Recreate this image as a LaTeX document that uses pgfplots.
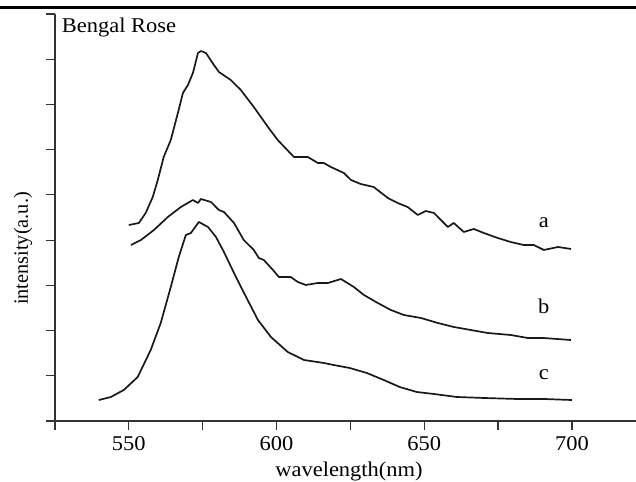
\documentclass[border=0pt]{standalone}
\usepackage{fontspec}
\setmainfont{Liberation Serif}[FakeStretch=1.07]
\newfontfamily\ylfont{Liberation Serif}
\usepackage{pgfplots}
\pgfplotsset{compat=1.18}
\newcommand\F{\fontsize{21bp}{25bp}\selectfont}

\pgfplotstableread{
x y
550.0 4.334
553.4 4.379
555.7 4.600
558.1 4.954
559.8 5.330
561.8 5.838
564.2 6.214
566.6 6.811
568.3 7.253
570.0 7.430
571.7 7.696
573.4 8.138
574.4 8.182
576.1 8.138
578.8 7.873
580.5 7.718
584.5 7.541
587.9 7.320
592.3 6.944
597.1 6.502
600.4 6.214
605.9 5.838
610.6 5.838
614.0 5.705
616.0 5.705
618.4 5.617
622.8 5.484
625.2 5.330
628.5 5.241
632.9 5.175
637.7 4.931
641.0 4.821
644.4 4.732
647.8 4.556
650.5 4.644
653.3 4.600
658.0 4.290
660.0 4.379
663.4 4.180
666.8 4.246
670.2 4.157
674.9 4.047
679.3 3.958
683.7 3.892
687.1 3.892
690.5 3.782
695.3 3.848
699.7 3.804
}\curveA

\pgfplotstableread{
x y
550.7 3.892
554.1 4.003
558.5 4.224
563.2 4.511
567.6 4.732
571.7 4.887
573.4 4.821
574.4 4.909
577.8 4.843
580.5 4.666
582.2 4.622
585.6 4.379
588.9 4.003
592.3 3.782
594.0 3.605
595.7 3.560
598.8 3.339
600.8 3.184
604.8 3.184
607.2 3.074
609.9 3.008
614.0 3.052
617.4 3.052
621.8 3.140
626.2 2.963
629.6 2.786
634.3 2.609
638.7 2.455
643.1 2.344
648.9 2.278
654.6 2.167
660.0 2.079
665.8 2.012
671.5 1.946
679.3 1.902
685.1 1.835
690.5 1.835
699.7 1.791
}\curveB

\pgfplotstableread{
x y
539.8 0.464
543.9 0.531
548.3 0.686
553.0 0.973
557.4 1.570
560.8 2.167
564.2 2.963
566.9 3.627
569.3 4.113
571.0 4.157
573.7 4.401
576.8 4.290
579.5 4.069
582.2 3.737
585.6 3.273
589.0 2.831
593.7 2.234
598.1 1.858
603.8 1.526
609.3 1.349
616.0 1.283
619.4 1.238
624.8 1.172
630.6 1.061
636.3 0.907
641.7 0.752
647.5 0.641
653.3 0.597
661.0 0.531
670.2 0.509
681.3 0.487
690.5 0.487
700.0 0.464
}\curveC

\begin{document}
\begin{tikzpicture}
\begin{axis}[
  at={(0,0)}, anchor=south west,
  scale only axis, width=581bp, height=407bp,
  xmin=525, xmax=721.7, ymin=0, ymax=9,
  axis x line=bottom, axis y line=left,
  axis line style={-, line width=1.2bp, black!80},
  every tick/.style={line width=1.2bp, black!80},
  tick align=outside,
  major tick length=9bp, minor tick length=9bp,
  xtick={550,600,650,700}, minor xtick={525,575,625,675},
  ytick={0,1,...,9}, yticklabels={},
  /pgf/number format/assume math mode=true,
  xticklabel style={font=\F, inner sep=0pt, anchor=base, yshift=-20bp},
  clip=false,
]
\addplot[line width=1.7bp, black!90, line join=round] table {\curveA};
\addplot[line width=1.7bp, black!90, line join=round] table {\curveB};
\addplot[line width=1.7bp, black!90, line join=round] table {\curveC};
\node[font=\F, anchor=base, inner sep=0pt] at (axis cs:690.5,4.268) {a};
\node[font=\F, anchor=base, inner sep=0pt] at (axis cs:690.5,2.388) {b};
\node[font=\F, anchor=base, inner sep=0pt] at (axis cs:690.5,0.907) {c};
\node[font=\F, anchor=base west, inner sep=0pt] at (axis cs:527.3,8.60) {Bengal Rose};
\node[font=\F, anchor=base, inner sep=0pt] at ([yshift=-55bp]rel axis cs:0.506,0) {wavelength(nm)};
\node[font={\ylfont\fontsize{20.3bp}{24bp}\selectfont}, rotate=90, anchor=center, inner sep=0pt] at ([xshift=-32bp]rel axis cs:0,0.424) {intensity(a.u.)};
\end{axis}
\draw[line width=3bp] (-55bp,413bp) -- (581bp,413bp);
\pgfresetboundingbox
\useasboundingbox (-55bp,-61bp) rectangle (581bp,421bp);
\end{tikzpicture}
\end{document}
